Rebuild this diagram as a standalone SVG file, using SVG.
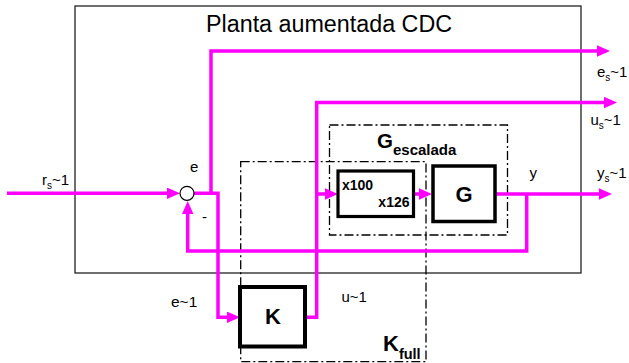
<svg xmlns="http://www.w3.org/2000/svg" width="629" height="363" viewBox="0 0 629 363">
<style>
.w{fill:none;stroke:#FF00FF;stroke-width:3.5;stroke-linejoin:miter}
.blk{fill:#fff;stroke:#000;stroke-width:3.5}
.dd{fill:none;stroke:#000;stroke-width:1.3;stroke-dasharray:9 3 2 3}
.t{font-family:"Liberation Sans",Arial,sans-serif;fill:#000}
.b{font-family:"Liberation Sans",Arial,sans-serif;font-weight:bold;fill:#000}
</style>
<defs>
<marker id="ar" markerUnits="userSpaceOnUse" markerWidth="14" markerHeight="12" refX="7" refY="5.75" orient="auto">
<path d="M0,0 L13,5.75 L0,11.5 z" fill="#FF00FF"/>
</marker>
</defs>
<rect width="629" height="363" fill="#fff"/>
<g id="planta">
<rect x="75" y="6" width="506" height="267" fill="none" stroke="#222" stroke-width="1.3"/>
<text class="t" x="206" y="31.5" font-size="23.3">Planta aumentada CDC</text>
</g>
<g id="Gescalada">
<rect class="dd" x="329.5" y="125" width="178" height="110"/>
<text class="b" x="377" y="147.5" font-size="20.5">G<tspan font-size="15" dy="7.5">escalada</tspan></text>
</g>
<g id="Kfull">
<rect class="dd" x="240.7" y="161.7" width="185.3" height="200"/>
<text class="b" x="383" y="351" font-size="22">K<tspan font-size="14.5" dy="7.5">full</tspan></text>
</g>
<g id="connectors">
<path class="w" d="M7,193.3 H174" marker-end="url(#ar)"/>
<path class="w" d="M194,193.3 H218 V317.3 H234" marker-end="url(#ar)"/>
<path class="w" d="M211,193.3 V51 H604" marker-end="url(#ar)"/>
<path class="w" d="M305,317.3 H316.7 V102.5 H611" marker-end="url(#ar)"/>
<path class="w" d="M316.7,194 H332" marker-end="url(#ar)"/>
<path class="w" d="M414,194 H426" marker-end="url(#ar)"/>
<path class="w" d="M495,194 H606" marker-end="url(#ar)"/>
<path class="w" d="M526.7,194 V251 H187.7 V207" marker-end="url(#ar)"/>
</g>
<g id="sum">
<circle cx="187" cy="193.3" r="7" fill="#fff" stroke="#000" stroke-width="1.2"/>
<text class="t" x="190" y="171.5" font-size="15">e</text>
<text class="t" x="202" y="222" font-size="15">-</text>
</g>
<g id="scale">
<rect x="338" y="171" width="75.5" height="45.5" fill="#fff" stroke="#000" stroke-width="3.2"/>
<text class="b" x="342" y="189.5" font-size="14">x100</text>
<text class="b" x="409.5" y="207" font-size="14" text-anchor="end">x126</text>
</g>
<g id="G">
<rect class="blk" x="433" y="166" width="62" height="55.5"/>
<text class="b" x="464" y="201.5" font-size="22" text-anchor="middle">G</text>
</g>
<g id="K">
<rect x="240" y="287" width="65" height="59.5" fill="#fff" stroke="#000" stroke-width="4"/>
<text class="b" x="273" y="323.5" font-size="22" text-anchor="middle">K</text>
</g>
<g id="labels">
<text class="t" x="42" y="185" font-size="15">r<tspan font-size="10" dy="4">s</tspan><tspan dy="-4">~1</tspan></text>
<text class="t" x="597" y="77" font-size="15">e<tspan font-size="10" dy="4">s</tspan><tspan dy="-4">~1</tspan></text>
<text class="t" x="590.5" y="125" font-size="15">u<tspan font-size="10" dy="4">s</tspan><tspan dy="-4">~1</tspan></text>
<text class="t" x="597" y="177.5" font-size="15">y<tspan font-size="10" dy="4">s</tspan><tspan dy="-4">~1</tspan></text>
<text class="t" x="529.5" y="178" font-size="15">y</text>
<text class="t" x="171" y="306.5" font-size="15.5">e~1</text>
<text class="t" x="341.5" y="301.7" font-size="15">u~1</text>
</g>
</svg>
